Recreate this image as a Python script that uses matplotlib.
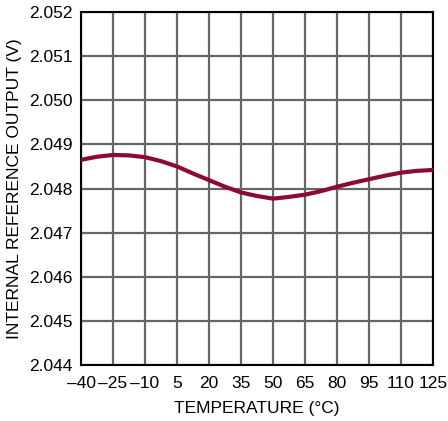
import numpy as np
import matplotlib.pyplot as plt
from matplotlib import font_manager

# values
temp = [-40, -32.5, -25, -17.5, -10, -2.5, 5, 12.5, 20, 27.5, 35, 42.5,
        50, 57.5, 65, 72.5, 80, 87.5, 95, 102.5, 110, 117.5, 125]
vref = [2.04865, 2.04872, 2.04876, 2.04875, 2.04871, 2.04862, 2.04850, 2.04834,
        2.04819, 2.04804, 2.04791, 2.04783, 2.04777, 2.04781, 2.04786, 2.04794,
        2.04804, 2.04813, 2.04821, 2.04829, 2.04836, 2.04840, 2.04842]

xticks = np.arange(-40, 126, 15)
yticks = np.arange(2.044, 2.0521, 0.001)

names = {f.name for f in font_manager.fontManager.ttflist}
fam = "Liberation Sans Narrow" if "Liberation Sans Narrow" in names else "Liberation Sans"
plt.rcParams['font.family'] = [fam, 'DejaVu Sans']

fig = plt.figure(figsize=(4.48, 4.21), dpi=100)
ax = fig.add_axes([81 / 448, 1 - 365 / 421, 352 / 448, 353 / 421])

ax.plot(temp, vref, color="#8c0a34", lw=3, solid_capstyle="round", zorder=3)

ax.set_xlim(-40, 125)
ax.set_ylim(2.044, 2.052)
ax.set_xticks(xticks)
ax.set_yticks(yticks)
ax.set_xticklabels([str(t).replace("-", "\u2013") for t in xticks], fontsize=12.5)
ax.set_yticklabels(["%.3f" % v for v in yticks], fontsize=12.5)
ax.tick_params(axis="x", length=0, pad=8)
ax.tick_params(axis="y", length=0, pad=6)
ax.grid(True, color="#666666", lw=1.6)
for s in ax.spines.values():
    s.set_color("black")
    s.set_linewidth(1.5)

ax.set_xlabel("TEMPERATURE (°C)", fontsize=12.5, labelpad=7)
ax.set_ylabel("INTERNAL REFERENCE OUTPUT (V)", fontsize=12.5, labelpad=5)

fig.savefig("out.png", dpi=100)
